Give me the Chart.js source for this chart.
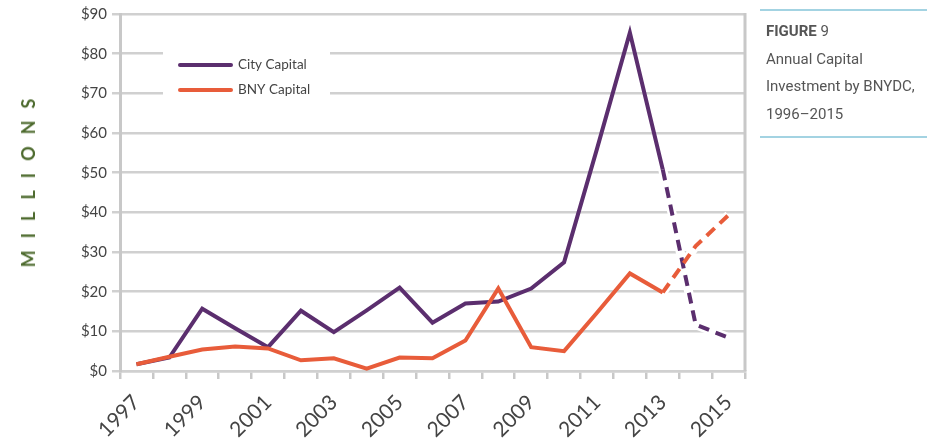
<!DOCTYPE html>
<html>
<head>
<meta charset="utf-8">
<script src="https://cdn.jsdelivr.net/npm/chart.js@4.4.1/dist/chart.umd.min.js"></script>
<style>
  body { margin: 0; background: #fff; }
  #wrap { position: relative; width: 927px; height: 445px; overflow: hidden; }
  #chart { position: absolute; left: 0; top: 0; }
  #ylabel {
    position: absolute; left: 28px; top: 183px;
    transform: translate(-50%, -50%) rotate(-90deg);
    font: bold 18px Lato, sans-serif; letter-spacing: 12px; padding-left: 12px;
    color: #4e6b2f; white-space: nowrap;
  }
  .rule { position: absolute; left: 760px; width: 167px; height: 2px; background: #a3d3e2; }
  #caption {
    position: absolute; left: 766px; top: 18px;
    font: 15px Roboto, sans-serif; line-height: 27.5px; color: #555;
  }
  #caption b { font-weight: bold; }
</style>
</head>
<body>
<div id="wrap">
  <canvas id="chart" width="927" height="445"></canvas>
  <div id="ylabel">MILLIONS</div>
  <div class="rule" style="top:9px"></div>
  <div id="caption"><b>FIGURE</b> 9<br>Annual Capital<br>Investment by BNYDC,<br>1996–2015</div>
  <div class="rule" style="top:136px"></div>
</div>
<script>
// Chart data (millions of dollars)
const years = ['1997', '1998', '1999', '2000', '2001', '2002', '2003', '2004', '2005', '2006',
  '2007', '2008', '2009', '2010', '2011', '2012', '2013', '2014', '2015'];
const cityCapital = [1.7, 3.4, 15.7, 10.8, 6, 15.2, 9.8, 15.3, 21, 12.2,
  17, 17.5, 20.8, 27.4, 56, 85.3, 50.8, 11.7, 8.4];
const bnyCapital = [1.7, 3.6, 5.4, 6.2, 5.7, 2.7, 3.2, 0.6, 3.4, 3.2,
  7.7, 20.8, 6, 5, 14.7, 24.6, 19.8, 31.5, 39.3];
const seriesNames = ['City Capital', 'BNY Capital'];
const yMax = 90;
const yStep = 10;
const projectedFrom = years.indexOf('2013');

const PURPLE = '#5b2e6e';
const ORANGE = '#e85c3a';
const GRID = '#d0d0d0';

// Helpers

function dashAfter(ctx) {
  return ctx.p0DataIndex >= projectedFrom ? [11, 7] : undefined;
}

function projectedOnly(values) {
  return values.map((v, i) => (i >= projectedFrom ? v : null));
}

function lineSet(label, values, color) {
  return {
    label: label,
    data: values,
    borderColor: color,
    borderWidth: 4,
    pointRadius: 0,
    tension: 0,
    borderJoinStyle: 'miter',
    segment: { borderDash: dashAfter }
  };
}

function haloSet(values) {
  return {
    label: '',
    data: projectedOnly(values),
    borderColor: '#fff',
    borderWidth: 9,
    pointRadius: 0,
    tension: 0
  };
}

// Legend sits inside the plot, on a white patch over the grid
const insideLegend = {
  id: 'insideLegend',
  beforeDatasetsDraw(chart) {
    const c = chart.ctx;
    c.save();
    c.fillStyle = '#fff';
    c.fillRect(163, 42, 167, 60);
    const entries = [
      { name: seriesNames[0], color: PURPLE, y: 65 },
      { name: seriesNames[1], color: ORANGE, y: 90 }
    ];
    entries.forEach(e => {
      c.strokeStyle = e.color;
      c.lineWidth = 4;
      c.lineCap = 'round';
      c.beginPath();
      c.moveTo(180, e.y);
      c.lineTo(231, e.y);
      c.stroke();
      c.fillStyle = '#444';
      c.font = '13.5px Lato, sans-serif';
      c.textBaseline = 'middle';
      c.fillText(e.name, 238, e.y);
    });
    // right frame line
    const a = chart.chartArea;
    c.strokeStyle = '#c8c8c8';
    c.lineWidth = 3;
    c.lineCap = 'butt';
    c.beginPath();
    c.moveTo(a.right, a.top - 1);
    c.lineTo(a.right, a.bottom);
    c.stroke();
    c.restore();
  }
};

new Chart(document.getElementById('chart'), {
  type: 'line',
  data: {
    labels: years,
    datasets: [
      lineSet(seriesNames[1], bnyCapital, ORANGE),
      lineSet(seriesNames[0], cityCapital, PURPLE),
      haloSet(bnyCapital),
      haloSet(cityCapital)
    ]
  },
  options: {
    responsive: false,
    animation: false,
    layout: { padding: { left: 0, right: 182, top: 14, bottom: 0 } },
    plugins: { legend: { display: false }, tooltip: { enabled: false } },
    scales: {
      x: {
        offset: true,
        grid: { offset: true, drawOnChartArea: false, tickLength: 8, color: '#c8c8c8', lineWidth: 2.5 },
        border: { display: true, color: GRID, width: 2.5 },
        ticks: {
          autoSkip: false, maxRotation: 45, minRotation: 45, padding: 11,
          color: '#444', font: { family: 'Lato', size: 21 },
          callback: (v, i) => (i % 2 === 0 ? years[i] : '')
        },
        afterFit: scale => { scale.height = 74; }
      },
      y: {
        min: 0, max: yMax,
        grid: { color: GRID, lineWidth: 2.5, tickLength: 8 },
        border: { display: true, color: '#c8c8c8', width: 3 },
        ticks: {
          stepSize: yStep, padding: 5, color: '#444',
          font: { family: 'Lato', size: 15 },
          callback: v => '$' + v
        },
        afterFit: scale => { scale.width = 120; }
      }
    }
  },
  plugins: [insideLegend]
});
</script>
</body>
</html>
